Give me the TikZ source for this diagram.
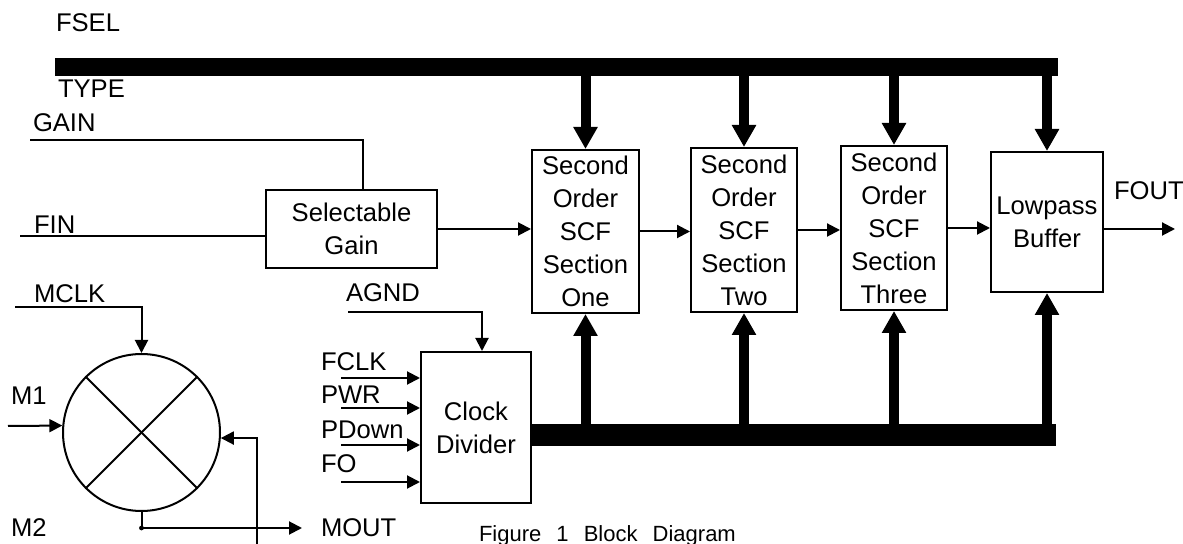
\documentclass[tikz,border=0pt]{standalone}
\usepackage{fontspec}
\setmainfont{Liberation Sans}
\usetikzlibrary{arrows.meta}

\begin{document}
\begin{tikzpicture}[x=0.5pt, y=-0.5pt, line width=1pt,
	every node/.style={font=\fontsize{12.8}{16.5}\selectfont},
	>={Triangle[length=6.5pt, width=6.5pt]},
	block/.style={draw, align=center, inner sep=0pt},
	lbl/.style={anchor=base west, inner sep=0pt},
	bus/.style={line width=9pt},
	busarrow/.style={line width=5pt, -{Triangle[length=11pt, width=11.5pt]}}]
	\useasboundingbox (0,0) rectangle (1183,544);
	% blocks
	\node[block, minimum width=85.5pt, minimum height=39pt] (gain) at (351.5,229) {Selectable\\Gain};
	\node[block, minimum width=53.5pt, minimum height=81.5pt] (secone) at (585.5,231.5) {Second\\Order\\SCF\\Section\\One};
	\node[block, minimum width=53pt, minimum height=82pt] (sectwo) at (744,230) {Second\\Order\\SCF\\Section\\Two};
	\node[block, minimum width=53pt, minimum height=82pt] (secthree) at (894,228) {Second\\Order\\SCF\\Section\\Three};
	\node[block, minimum width=56pt, minimum height=70pt] (buffer) at (1047,222) {Lowpass\\Buffer};
	\node[block, minimum width=55pt, minimum height=75.5pt] (clkdiv) at (476,427.5) {Clock\\Divider};
	\node[draw, circle, minimum size=78.5pt, inner sep=0pt] (mixer) at (141.5,432.5) {};
	\draw (mixer.45) -- (mixer.225);
	\draw (mixer.135) -- (mixer.-45);
	% buses
	\coordinate (busL) at (55,67);
	\coordinate (busR) at (1058,67);
	\coordinate (clkR) at (1056,435);
	\draw[bus] (busL) -- (busR);
	\draw[bus, line width=11pt] (clkdiv.east |- clkR) -- (clkR);
	\foreach \b in {secone,sectwo,secthree,buffer} {
		\draw[busarrow] (\b.north |- busL) -- (\b.north);
		\draw[busarrow] (\b.south |- clkR) -- (\b.south);
	}
	\node[lbl] at (55,32) {FSEL};
	\node[lbl] at (57,98) {TYPE};
	% signal path
	\coordinate (gainin) at (30,140);
	\coordinate (fin) at (20,236);
	\coordinate (fout) at (1175,229);
	\draw (gainin) -| ([xshift=5.75pt]gain.north);
	\draw (fin) -- (fin -| gain.west);
	\draw[->] (gain.east) -- (gain.east -| secone.west);
	\draw[->] (secone.east) -- (secone.east -| sectwo.west);
	\draw[->] (sectwo.east) -- (sectwo.east -| secthree.west);
	\draw[->] (secthree.east) -- (secthree.east -| buffer.west);
	\draw[->] (buffer.east |- fout) -- (fout);
	\node[lbl] at (32,132) {GAIN};
	\node[lbl] at (33,234) {FIN};
	\node[lbl] at (1113,200) {FOUT};
	% clock divider inputs
	\coordinate (agnd) at (348,312);
	\draw[->] (agnd) -| ([xshift=3pt]clkdiv.north);
	\node[lbl] at (345,302) {AGND};
	\foreach \lab/\ly/\yy in {FCLK/371/378, PWR/404/408, PDown/439/445, FO/473/482} {
		\coordinate (\lab) at (341,\yy);
		\draw[->] (\lab) -- (\lab -| clkdiv.west);
		\node[lbl] at (320,\ly) {\lab};
	}
	% mixer
	\coordinate (mclk) at (15,307);
	\coordinate (m1) at (8,426);
	\coordinate (m2in) at (257,544);
	\coordinate (mout) at (302,528);
	\draw[->] (mclk) -| (mixer.north);
	\draw[->] (m1) -- (mixer.175);
	\draw[->] (m2in) |- (mixer.-4);
	\draw[->] (mixer.south) |- (mout);
	\fill (mixer.south |- mout) circle (1.2pt);
	\node[lbl] at (33,303) {MCLK};
	\node[lbl] at (10,405) {M1};
	\node[lbl] at (10,537) {M2};
	\node[lbl] at (320,537) {MOUT};
	\node[lbl, font=\fontsize{11}{12}\selectfont] at (478,542) {Figure\hspace{4.5pt} 1\hspace{4.5pt} Block\hspace{4.5pt} Diagram};
\end{tikzpicture}
\end{document}
